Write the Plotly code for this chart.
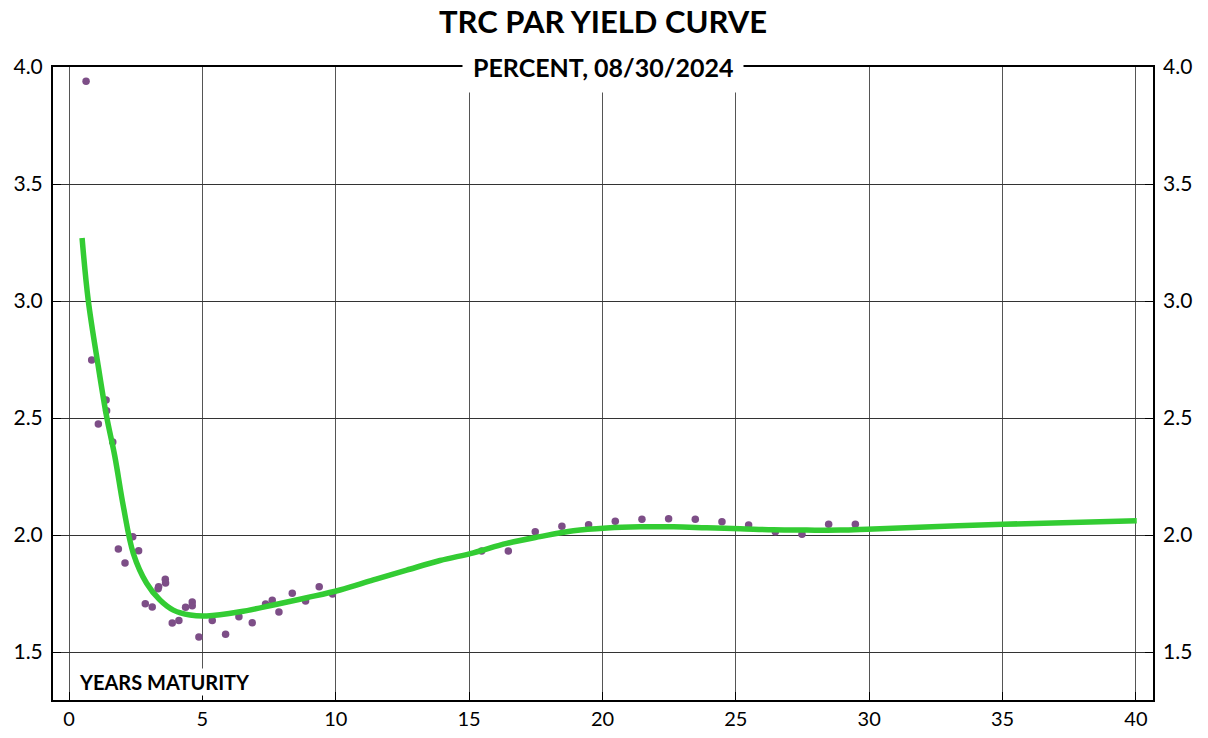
import plotly.graph_objects as go

# Observed par yields (scatter)
obs_years = [0.64, 0.85, 1.10, 1.39, 1.41, 1.64, 1.85, 2.10, 2.39, 2.61, 2.86, 3.12,
             3.36, 3.34, 3.61, 3.62, 3.87, 4.12, 4.37, 4.62, 4.62, 4.87, 5.37, 5.87,
             6.37, 6.87, 7.37, 7.62, 7.87, 8.37, 8.87, 9.38, 9.88,
             15.47, 16.47, 17.48, 18.48, 19.48, 20.48, 21.48, 22.48, 23.48, 24.48,
             25.48, 26.48, 27.48, 28.48, 29.48]
obs_yield = [3.939, 2.748, 2.474, 2.577, 2.531, 2.397, 1.940, 1.880, 1.993, 1.933, 1.706, 1.692,
             1.779, 1.770, 1.811, 1.795, 1.624, 1.635, 1.691, 1.714, 1.698, 1.564, 1.635, 1.576,
             1.651, 1.625, 1.705, 1.721, 1.671, 1.751, 1.718, 1.779, 1.748,
             1.932, 1.932, 2.014, 2.038, 2.044, 2.059, 2.067, 2.070, 2.067, 2.057,
             2.043, 2.014, 2.003, 2.046, 2.046]

# Fitted par yield curve
curve_years = [0.49, 0.72, 1.10, 1.41, 1.72, 2.04, 2.41, 2.91, 3.41, 3.91, 4.54, 5.16,
               6.41, 7.66, 8.91, 10.16, 11.41, 12.66, 13.91, 15.16, 16.41, 17.66, 18.91,
               20.16, 21.41, 22.66, 23.91, 25.16, 26.41, 27.66, 28.91, 30.16, 35.03, 40.03]
curve_yield = [3.269, 3.004, 2.719, 2.506, 2.335, 2.121, 1.922, 1.794, 1.722, 1.679, 1.658, 1.654,
               1.672, 1.701, 1.732, 1.765, 1.808, 1.850, 1.891, 1.924, 1.964, 1.993, 2.018,
               2.030, 2.035, 2.035, 2.031, 2.027, 2.022, 2.021, 2.021, 2.026, 2.046, 2.061]

x_ticks = [0, 5, 10, 15, 20, 25, 30, 35, 40]
y_ticks = [1.5, 2.0, 2.5, 3.0, 3.5, 4.0]
y_labels = ["1.5", "2.0", "2.5", "3.0", "3.5", "4.0"]

FONT = "Lato, 'Liberation Sans Narrow', Arial, sans-serif"
yr = [1.295, 4.0]

fig = go.Figure()
fig.add_trace(go.Scatter(x=obs_years, y=obs_yield, mode="markers",
                         marker=dict(color="#7D4E87", size=7.5), showlegend=False))
fig.add_trace(go.Scatter(x=curve_years, y=curve_yield, mode="lines",
                         line=dict(color="#33CC33", width=5.5, shape="spline"), showlegend=False))
fig.add_trace(go.Scatter(x=[None], y=[None], yaxis="y2", showlegend=False))

fig.update_layout(
    width=1208, height=738,
    margin=dict(l=53, r=55, t=67, b=38),
    plot_bgcolor="white", paper_bgcolor="white",
    font=dict(family=FONT, color="black", size=21),
    xaxis=dict(range=[-0.6, 40.64], tickvals=x_ticks, showgrid=True, gridcolor="#555555",
               gridwidth=1, zeroline=False, showline=True, linecolor="black", linewidth=2,
               mirror=True, ticks="inside", ticklen=8, tickcolor="black",
               tickfont=dict(size=20), ticklabelstandoff=0, automargin=False),
    yaxis=dict(range=yr, tickvals=y_ticks, ticktext=y_labels, showgrid=True,
               gridcolor="#333333", gridwidth=1, zeroline=False, showline=True,
               linecolor="black", linewidth=2, mirror=True, ticks="inside", ticklen=8,
               tickcolor="black", tickfont=dict(size=21), ticklabelstandoff=4,
               automargin=False),
    yaxis2=dict(range=yr, tickvals=y_ticks, ticktext=y_labels, overlaying="y", side="right",
                showgrid=False, zeroline=False, ticks="inside", ticklen=8, tickcolor="black",
                tickfont=dict(size=21), showline=False, ticklabelstandoff=9,
                automargin=False),
    annotations=[
        dict(text="<b>TRC PAR YIELD CURVE</b>", x=0.5, y=1.0, yshift=46, xref="paper",
             yref="paper", yanchor="middle", showarrow=False,
             font=dict(size=31, family=FONT)),
        dict(text="<b>PERCENT, 08/30/2024</b>", x=0.5, y=1.0, xref="paper", yref="paper",
             showarrow=False, bgcolor="white", borderpad=10, font=dict(size=25, family=FONT),
             yanchor="middle"),
        dict(text="<b>YEARS MATURITY</b>", x=0.3, y=1.37, xref="x", yref="y",
             xanchor="left", yanchor="middle", showarrow=False, bgcolor="white",
             font=dict(size=20, family=FONT)),
    ],
)

fig.write_html("out.html", config={"displayModeBar": False},
               post_script="document.body.style.margin='0';document.body.style.overflow='hidden';")
